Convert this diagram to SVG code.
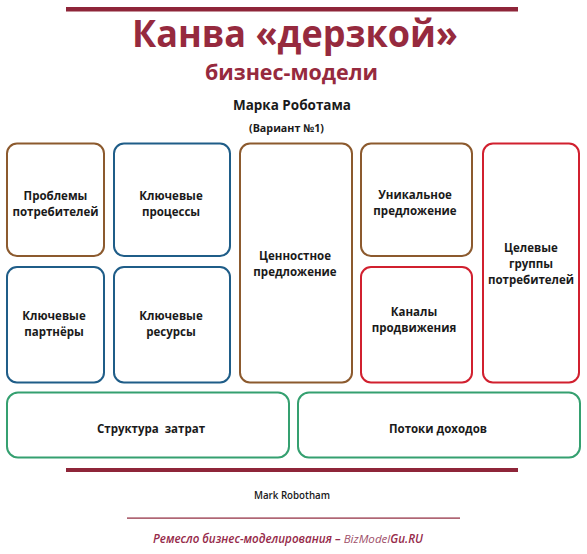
<svg xmlns="http://www.w3.org/2000/svg" width="587" height="554" viewBox="0 0 587 554">
<style>
text{font-family:"Open Sans","DejaVu Sans",sans-serif;text-anchor:middle}
.lbl{font-size:11.5px;font-weight:700;fill:#1a1a1a}
.box{fill:#fff;stroke-width:2}
.brown{stroke:#8c5a2e}
.blue{stroke:#1f5d88}
.red{stroke:#d1202f}
.green{stroke:#35a070}
.title{fill:#962a3e;font-weight:700}
</style>
<rect width="587" height="554" fill="#fff"/>
<g id="header">
<rect x="66" y="7" width="452" height="4.5" fill="#8e2539"/>
<text class="title" x="295" y="47" font-size="37" textLength="326" lengthAdjust="spacingAndGlyphs">Канва «дерзкой»</text>
<text class="title" x="291.5" y="80" font-size="22" textLength="173" lengthAdjust="spacingAndGlyphs">бизнес-модели</text>
<text x="292" y="110" font-size="15" font-weight="700" fill="#1a1a1a" textLength="118" lengthAdjust="spacingAndGlyphs">Марка Роботама</text>
<text x="286.5" y="132" font-size="11" font-weight="700" fill="#1a1a1a" textLength="75" lengthAdjust="spacingAndGlyphs">(Вариант №1)</text>
</g>
<g id="problems"><rect class="box brown" x="7" y="143.5" width="97" height="112.5" rx="10"/>
<text class="lbl" x="55.5" y="200">Проблемы</text><text class="lbl" x="55.5" y="216">потребителей</text></g>
<g id="key-processes"><rect class="box blue" x="114" y="143.5" width="116" height="112.5" rx="10"/>
<text class="lbl" x="171" y="200">Ключевые</text><text class="lbl" x="171" y="216">процессы</text></g>
<g id="value-proposition"><rect class="box brown" x="240" y="143.5" width="112" height="239" rx="10"/>
<text class="lbl" x="295" y="260">Ценностное</text><text class="lbl" x="295" y="276">предложение</text></g>
<g id="unique-proposition"><rect class="box brown" x="361" y="143.5" width="111" height="112.5" rx="10"/>
<text class="lbl" x="415" y="199">Уникальное</text><text class="lbl" x="415" y="215">предложение</text></g>
<g id="target-groups"><rect class="box red" x="483" y="143.5" width="96" height="239" rx="10"/>
<text class="lbl" x="531" y="252">Целевые</text><text class="lbl" x="531" y="268">группы</text><text class="lbl" x="531" y="284">потребителей</text></g>
<g id="key-partners"><rect class="box blue" x="7" y="267" width="97" height="115.5" rx="10"/>
<text class="lbl" x="54" y="320">Ключевые</text><text class="lbl" x="54" y="336">партнёры</text></g>
<g id="key-resources"><rect class="box blue" x="114" y="267" width="116" height="115.5" rx="10"/>
<text class="lbl" x="171" y="320">Ключевые</text><text class="lbl" x="171" y="336">ресурсы</text></g>
<g id="channels"><rect class="box red" x="361" y="267" width="111" height="115.5" rx="10"/>
<text class="lbl" x="414" y="316">Каналы</text><text class="lbl" x="414" y="332">продвижения</text></g>
<g id="cost-structure"><rect class="box green" x="7" y="392.5" width="282" height="65" rx="11"/>
<text class="lbl" x="151" y="433" font-size="11" xml:space="preserve">Структура  затрат</text></g>
<g id="revenue-streams"><rect class="box green" x="298" y="392.5" width="282" height="65" rx="11"/>
<text class="lbl" x="438" y="433" font-size="11">Потоки доходов</text></g>
<g id="connectors"></g>
<g id="footer">
<rect x="66" y="468" width="452" height="4" fill="#8e2539"/>
<text x="292" y="499" font-size="11" font-weight="600" fill="#1a1a1a" textLength="76" lengthAdjust="spacingAndGlyphs">Mark Robotham</text>
<rect x="127" y="517.5" width="333" height="1.2" fill="#8e2539"/>
<text x="288" y="543" font-size="11.6" font-style="italic" fill="#962a4a" font-weight="600">Ремесло бизнес-моделирования – <tspan font-weight="400" fill="#a0506a">BizModel</tspan>Gu.RU</text>
</g>
</svg>
